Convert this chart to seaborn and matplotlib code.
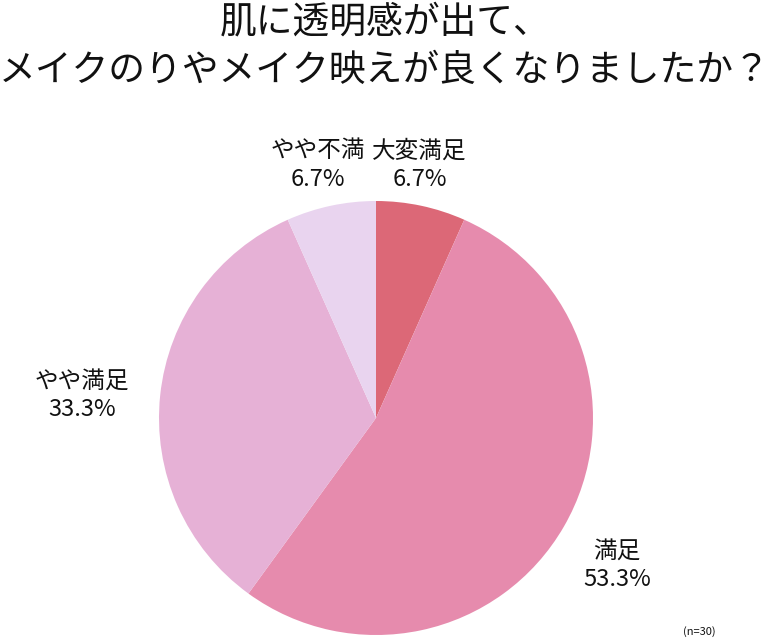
import matplotlib
matplotlib.use("Agg")
import matplotlib.pyplot as plt
import seaborn as sns

sns.set_theme(style="white")
plt.rcParams['font.family'] = ['Noto Sans CJK JP', 'DejaVu Sans']

categories = ["大変満足", "満足", "やや満足", "やや不満"]
counts = [2, 16, 10, 2]
percent_labels = ["6.7%", "53.3%", "33.3%", "6.7%"]
colors = ["#DC6877", "#E68BAD", "#E6B1D6", "#E9D4EF"]
label_pos = [(0.20, 1.166), (1.11, -0.677), (-1.355, 0.106), (-0.267, 1.166)]

fig = plt.figure(figsize=(7.7, 6.44), dpi=100)
cx, cy, r = 376, 418, 217
ax = fig.add_axes([(cx - r) / 770, (644 - cy - r) / 644, 2 * r / 770, 2 * r / 644])
ax.pie(counts, colors=colors, startangle=90, counterclock=False, radius=1,
       wedgeprops=dict(linewidth=0))
ax.set_xlim(-1, 1)
ax.set_ylim(-1, 1)
ax.set_aspect("equal")
ax.axis("off")

for cat, pct, (x, y) in zip(categories, percent_labels, label_pos):
    ax.text(x, y, f"{cat}\n{pct}", ha="center", va="center", fontsize=17,
            linespacing=1.3, color="#111111", clip_on=False)

fig.text(0.5, 1 - 22 / 644, "肌に透明感が出て、", ha="center", va="center", fontsize=26.5, color="#111111")
fig.text(0.5, 1 - 70 / 644, "メイクのりやメイク映えが良くなりましたか？", ha="center", va="center", fontsize=26.5, color="#111111")
fig.text(1 - 71 / 770, 1 - 632 / 644, "(n=30)", ha="center", va="center", fontsize=8, color="#111111")

fig.savefig("out.png", dpi=100)
